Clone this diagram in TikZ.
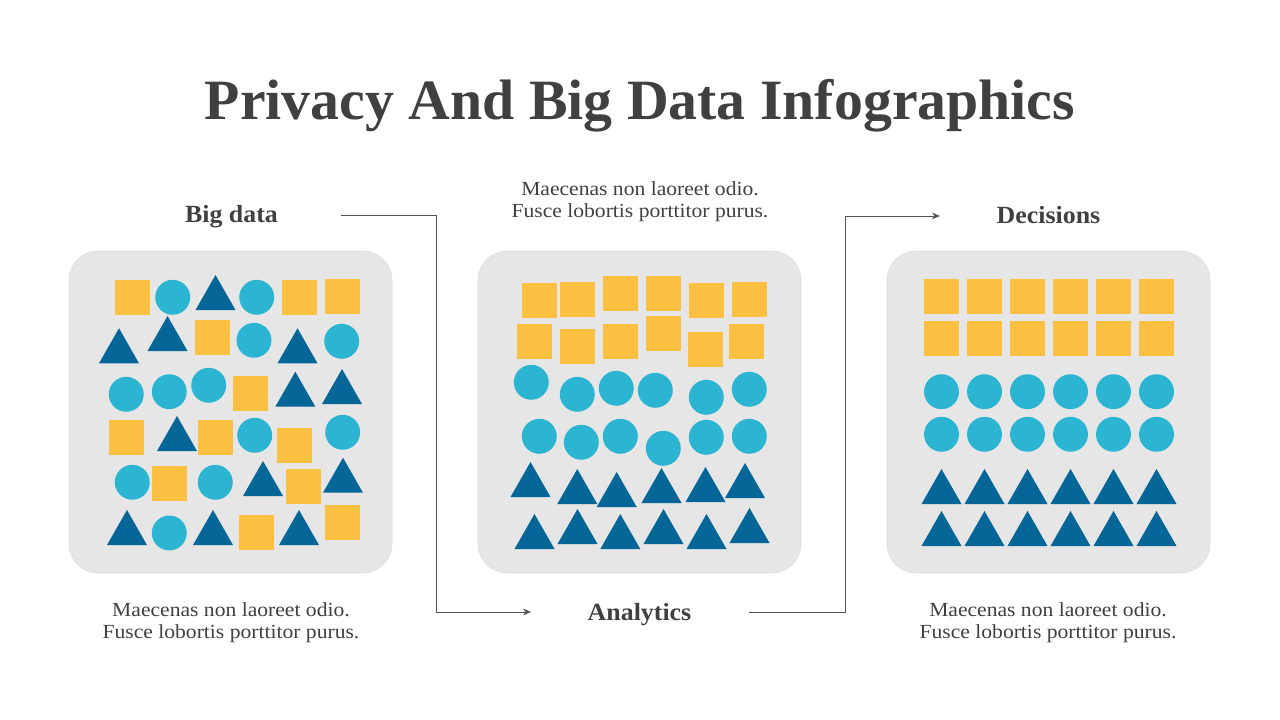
\documentclass[tikz,border=0pt]{standalone}
\usepackage{fontspec}
\setmainfont{Liberation Serif}
\newfontfamily\titlefont[FakeStretch=1.014]{Liberation Serif}
\newfontfamily\headfont[FakeStretch=1.05]{Liberation Serif}
\newfontfamily\bodyfont[FakeStretch=1.08]{Liberation Serif}
\usetikzlibrary{arrows.meta}
\definecolor{txt}{HTML}{404040}
\definecolor{sqc}{HTML}{FBBF41}
\definecolor{cic}{HTML}{2BB5D2}
\definecolor{trc}{HTML}{066698}
\definecolor{panelc}{HTML}{E6E6E6}
\definecolor{linec}{HTML}{555555}
\newcommand\Sq[2]{\fill[sqc] (#1,#2) rectangle ++(35,35);}
\newcommand\Ci[2]{\fill[cic] (#1,#2) circle[radius=13.1pt];}
\newcommand\Tr[2]{\fill[trc] ({#1-20},#2) -- ({#1+20},#2) -- (#1,{#2-35}) -- cycle;}
\tikzset{
  panel/.style={fill=panelc, draw=white!88!black, line width=0.5pt, rounded corners=22pt},
  heading/.style={text=txt, font=\headfont\bfseries\fontsize{18.5}{21}\selectfont, inner sep=0pt, anchor=base},
  body/.style={text=txt, font=\bodyfont\fontsize{15}{16.5}\selectfont, align=center, inner sep=0pt, anchor=north},
  conn/.style={draw=linec, line width=0.6pt},
  arr/.style={-{Stealth[length=6pt,width=5pt]}}
}
\begin{document}
\begin{tikzpicture}[x=0.75pt,y=-0.75pt]
\useasboundingbox[fill=white] (0,0) rectangle (1280,720);
% title
\node[text=txt, font=\titlefont\bfseries\fontsize{42.75}{50}\selectfont, inner sep=0pt, anchor=base] (title) at (640,120) {Privacy And Big Data Infographics};
% headings
\node[heading] (bigdata) at (231.5,222.5) {Big data};
\node[heading] (analytics) at (639.5,620) {Analytics};
\node[heading] (decisions) at (1048.5,223.5) {Decisions};
% body texts
\node[body] (t1) at (640,181) {Maecenas non laoreet odio.\\Fusce lobortis porttitor purus.};
\node[body] (t2) at (231,602) {Maecenas non laoreet odio.\\Fusce lobortis porttitor purus.};
\node[body] (t3) at (1048,602) {Maecenas non laoreet odio.\\Fusce lobortis porttitor purus.};
% panels
\path[panel] (69,251) rectangle (392,573);
\path[panel] (478,251) rectangle (801,573);
\path[panel] (887,251) rectangle (1210,573);
% connectors
\coordinate (s1) at (341,215.5);
\coordinate (e1) at (531,612);
\coordinate (s2) at (749,612);
\coordinate (e2) at (940,216);
\draw[conn,arr] (s1) -- ++(95,0) |- (e1);
\draw[conn,arr] (s2) -- ++(96,0) |- (e2);
% left panel
\Sq{115}{280}\Sq{282}{280}\Sq{325}{279}\Sq{195}{320}\Sq{233}{376}\Sq{109}{420}
\Sq{198}{420}\Sq{277}{428}\Sq{152}{466}\Sq{286}{469}\Sq{239}{515}\Sq{325}{505}
\Ci{172.7}{297.3}\Ci{256.7}{297.3}\Ci{254}{340.3}\Ci{341.7}{341.3}\Ci{126.3}{394.3}\Ci{169.3}{391.7}
\Ci{208.7}{385.3}\Ci{254.7}{435.3}\Ci{342.7}{432.3}\Ci{132.3}{482.3}\Ci{215.3}{482.3}\Ci{169.3}{533}
\Tr{215.5}{310}\Tr{119}{363.3}\Tr{167.5}{351}\Tr{297.5}{363.3}\Tr{295.3}{406.7}\Tr{342}{404}
\Tr{177}{451}\Tr{263}{496}\Tr{343}{492.7}\Tr{127}{545}\Tr{213}{545}\Tr{299}{545}
% middle panel
\Sq{522}{283}\Sq{560}{282}\Sq{603}{276}\Sq{646}{276}\Sq{689}{283}\Sq{732}{282}
\Sq{517}{324}\Sq{560}{329}\Sq{603}{324}\Sq{646}{316}\Sq{688}{332}\Sq{729}{324}
\Ci{531.3}{382.3}\Ci{577.3}{394.3}\Ci{616.3}{388.3}\Ci{655.3}{390.3}\Ci{706.3}{397.3}\Ci{749.3}{389.3}
\Ci{539.3}{436.3}\Ci{581.3}{442.3}\Ci{620.3}{436.3}\Ci{663.3}{448.3}\Ci{706.3}{437.3}\Ci{749.3}{436.3}
\Tr{530.5}{497}\Tr{577.3}{504}\Tr{616.7}{507}\Tr{661.5}{503}\Tr{705.5}{502}\Tr{745}{498}
\Tr{534.5}{549}\Tr{577.5}{544}\Tr{620.3}{549}\Tr{663.5}{544}\Tr{706.5}{549}\Tr{749.5}{543}
% right panel
\foreach \i in {0,...,5}{
  \pgfmathsetmacro\xx{924+43*\i}
  \Sq{\xx}{279}\Sq{\xx}{321}
  \pgfmathsetmacro\cx{941.5+43*\i}
  \Ci{\cx}{391.7}\Ci{\cx}{434.3}
  \Tr{\cx}{504}\Tr{\cx}{546}
}
\end{tikzpicture}
\end{document}
